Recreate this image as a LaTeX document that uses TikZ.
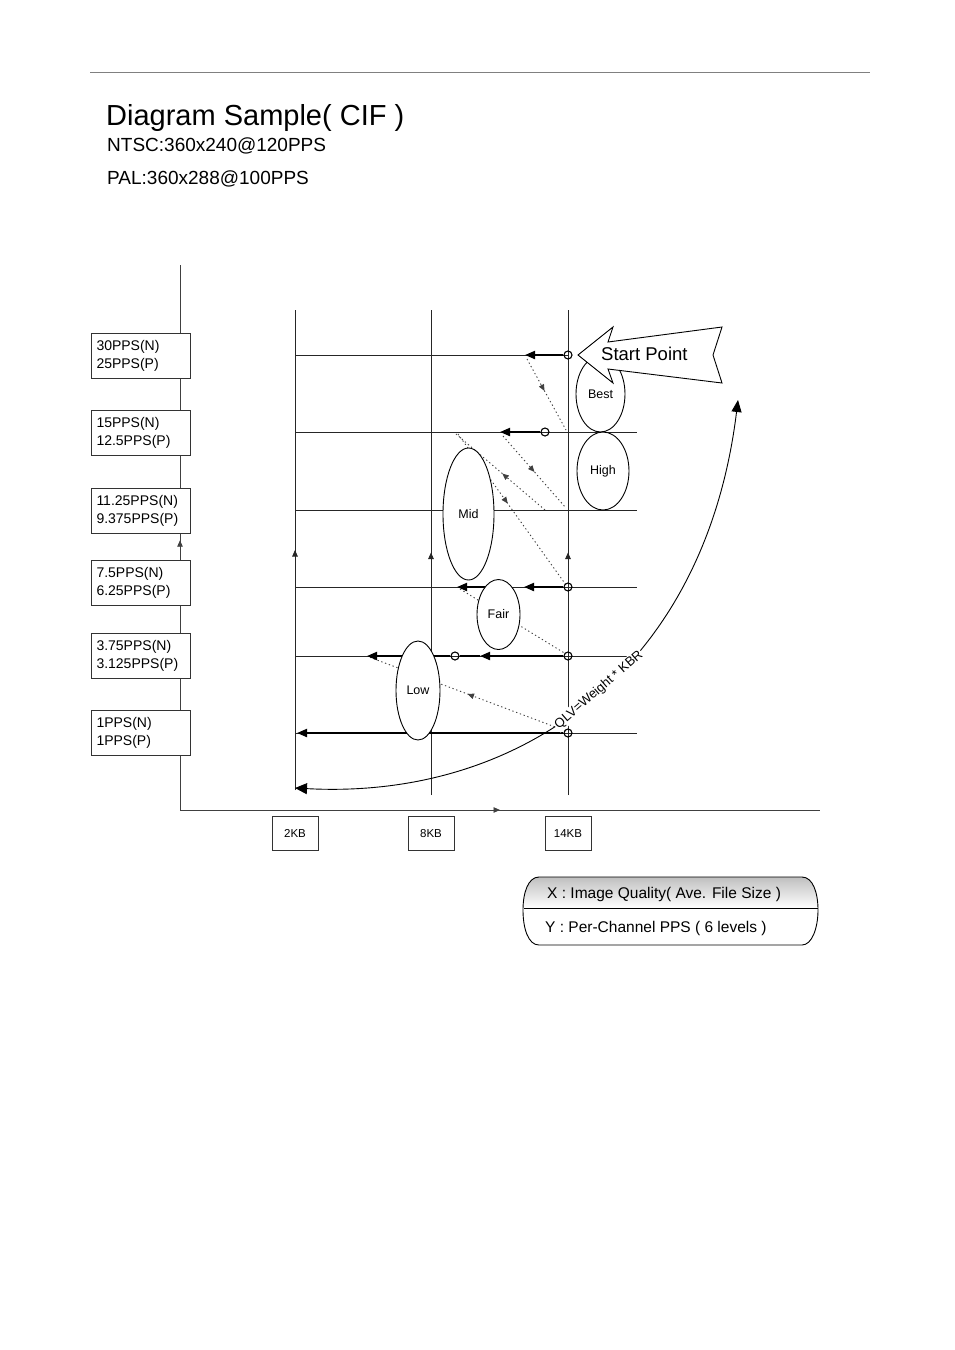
\documentclass[tikz,border=0pt]{standalone}
\usepackage{fontspec}
\setmainfont{Liberation Sans}
\usetikzlibrary{arrows.meta,shapes.geometric,decorations.markings}
\begin{document}
\begin{tikzpicture}[x=1pt,y=-1pt,
  axisline/.style={draw=black!75, line width=0.9pt},
  gridline/.style={draw=black!85, line width=0.9pt},
  midarrow/.style={postaction={decorate}, decoration={markings,
     mark=at position #1 with {\arrow{Triangle[length=6.5pt,width=5.5pt]}}}},
  thkarrow/.style={draw=black, line width=2pt, -{Triangle[length=10pt,width=8pt]}},
  thkline/.style={draw=black, line width=2pt},
  dotline/.style={draw=black!75, line width=0.9pt, dash pattern=on 1.3pt off 2.7pt},
  lvlbox/.style={draw=black!80, line width=0.9pt, fill=white, minimum width=99pt, minimum height=45pt,
     text width=88pt, align=left, inner sep=0pt, font=\fontsize{14}{18}\selectfont},
  kbbox/.style={draw=black!80, line width=0.9pt, fill=white, minimum width=46pt, minimum height=34pt,
     inner sep=0pt, font=\fontsize{11.5}{14}\selectfont},
  oval/.style={ellipse, draw=black, line width=0.9pt, fill=white, inner sep=0pt,
     font=\fontsize{12.5}{15}\selectfont},
  pt/.style={circle, draw=black, line width=1.1pt, inner sep=0pt, minimum size=8pt},
]
\useasboundingbox[fill=white] (0,0) rectangle (954,1350);

% top rule
\coordinate (r1) at (90,72); \coordinate (r2) at (870,72);
\draw[gray, line width=0.9pt] (r1) -- (r2);

% title
\node[anchor=base west, inner sep=0pt, font=\fontsize{29}{34}\selectfont] (title) at (106,125) {Diagram Sample( CIF )};
\node[anchor=base west, inner sep=0pt, font=\fontsize{19}{22}\selectfont] (ntsc) at (107,151.5) {NTSC:360x240@120PPS};
\node[anchor=base west, inner sep=0pt, font=\fontsize{19}{22}\selectfont] (pal) at (107,184) {PAL:360x288@100PPS};

% axes
\coordinate (yt) at (180,265); \coordinate (o) at (180,810); \coordinate (xe) at (820,810);
\draw[axisline, midarrow=0.495] (o) -- (yt);
\draw[axisline, midarrow=0.5] (o) -- (xe);

% grid coordinates
\coordinate (v2t) at (295,310); \coordinate (v2b) at (295,790);
\coordinate (v8t) at (431,310); \coordinate (v8b) at (431,795);
\coordinate (v14t) at (568,310); \coordinate (v14b) at (568,795);
\draw[gridline, midarrow=0.5] (v2b) -- (v2t);
\draw[gridline, midarrow=0.5] (v8b) -- (v8t);
\draw[gridline, midarrow=0.5] (v14b) -- (v14t);

\coordinate (h1a) at (295,355); \coordinate (h1b) at (568,355);
\coordinate (h2a) at (295,432); \coordinate (h2b) at (637,432);
\coordinate (h3a) at (295,510); \coordinate (h3b) at (637,510);
\coordinate (h4a) at (295,587); \coordinate (h4b) at (637,587);
\coordinate (h5a) at (295,656); \coordinate (h5b) at (628,656);
\coordinate (h6a) at (295,733); \coordinate (h6b) at (637,733);
\draw[gridline] (h1a) -- (h1b);
\draw[gridline] (h2a) -- (h2b);
\draw[gridline] (h3a) -- (h3b);
\draw[gridline] (h4a) -- (h4b);
\draw[gridline] (h5a) -- (h5b);
\draw[gridline] (h6a) -- (h6b);

% level boxes
\node[lvlbox] (l1) at (140.5,355.5) {30PPS(N)\\25PPS(P)};
\node[lvlbox] (l2) at (140.5,432.5) {15PPS(N)\\12.5PPS(P)};
\node[lvlbox] (l3) at (140.5,510.5) {11.25PPS(N)\\9.375PPS(P)};
\node[lvlbox] (l4) at (140.5,582.5) {7.5PPS(N)\\6.25PPS(P)};
\node[lvlbox] (l5) at (140.5,655.5) {3.75PPS(N)\\3.125PPS(P)};
\node[lvlbox] (l6) at (140.5,732.5) {1PPS(N)\\1PPS(P)};

% KB boxes
\node[kbbox] (k2) at (295,833.5) {2KB};
\node[kbbox] (k8) at (431,833.5) {8KB};
\node[kbbox] (k14) at (568,833.5) {14KB};

% dotted arrows
\coordinate (d1a) at (527,359); \coordinate (d1b) at (566,430);
\coordinate (d2a) at (503,436); \coordinate (d2b) at (566,508);
\coordinate (d3a) at (545,510); \coordinate (d3b) at (456,434);
\coordinate (d4a) at (458,434); \coordinate (d4b) at (566,585);
\coordinate (d5a) at (460,589); \coordinate (d5b) at (566,654);
\coordinate (d6a) at (566,731); \coordinate (d6b) at (369,657);
\draw[dotline, midarrow=0.45] (d1a) -- (d1b);
\draw[dotline, midarrow=0.5] (d2a) -- (d2b);
\draw[dotline, midarrow=0.48] (d3a) -- (d3b);
\draw[dotline, midarrow=0.46] (d4a) -- (d4b);
\draw[dotline] (d5a) -- (d5b);
\draw[dotline, midarrow=0.5] (d6a) -- (d6b);

% circles
\node[pt] (c1) at (568,355) {};
\node[pt] (c2) at (545,432) {};
\node[pt] (c4) at (568,587) {};
\node[pt] (c5) at (568,656) {};
\node[pt] (c5b) at (455,656) {};
\node[pt] (c6) at (568,733) {};

% thick arrows
\coordinate (a1) at (525,355);
\coordinate (a2) at (500,432);
\coordinate (a4) at (524,587); \coordinate (a4s) at (492,587); \coordinate (a4b) at (457,587);
\coordinate (a5) at (480,656); \coordinate (a5b) at (367,656);
\coordinate (a6) at (297,733);
\draw[thkarrow] (c1) -- (a1);
\draw[thkarrow] (c2) -- (a2);
\draw[thkarrow] (c4) -- (a4);
\draw[thkarrow] (a4s) -- (a4b);
\draw[thkarrow] (c5) -- (a5);
\draw[thkline] (a5) -- (c5b);
\draw[thkarrow] (c5b) -- (a5b);
\draw[thkarrow] (c6) -- (a6);

% ellipses
\node[oval, minimum width=49pt, minimum height=76pt] (best) at (600.5,394) {Best};
\node[oval, minimum width=52pt, minimum height=78pt] (high) at (603,471) {High};
\node[oval, minimum width=51pt, minimum height=132pt] (mid) at (468.5,514) {Mid};
\node[oval, minimum width=43pt, minimum height=70pt] (fair) at (498.5,614.5) {Fair};
\node[oval, minimum width=44pt, minimum height=99pt] (low) at (418,690.5) {Low};

% start point arrow
\coordinate (s0) at (578,355); \coordinate (s1) at (613,327); \coordinate (s2) at (608,342);
\coordinate (s3) at (722,327); \coordinate (s4) at (713,355); \coordinate (s5) at (722,383);
\coordinate (s6) at (608,369); \coordinate (s7) at (613,383);
\draw[fill=white, line width=0.9pt] (s0) -- (s1) -- (s2) -- (s3) -- (s4) -- (s5) -- (s6) -- (s7) -- cycle;
\node[anchor=base west, inner sep=0pt, font=\fontsize{18.5}{22}\selectfont] (start) at (601,360.5) {Start Point};

% QLV curve
\coordinate (q1) at (295,788); \coordinate (q2) at (738,400);
\draw[line width=0.9pt, {Triangle[length=12pt,width=11pt]}-{Triangle[length=12pt,width=10pt]}]
  (q1) .. controls (520,800) and (705,670) .. (q2);
\node[fill=white, inner sep=1pt, rotate=41, font=\fontsize{13}{15}\selectfont] (qlv) at (599,690) {QLV=Weight * KBR};

% legend
\begin{scope}
\clip (539,877) -- (802,877) .. controls (813,877) and (818,893) .. (818,910)
  .. controls (818,928) and (812,945) .. (802,945) -- (539,945)
  .. controls (528,945) and (523,928) .. (523,910) .. controls (523,893) and (528,877) .. (539,877) -- cycle;
\shade[top color=gray!50, bottom color=white] (520,877) rectangle (820,908);
\end{scope}
\draw[line width=0.9pt] (539,877) -- (802,877) .. controls (813,877) and (818,893) .. (818,910)
  .. controls (818,928) and (812,945) .. (802,945) -- (539,945)
  .. controls (528,945) and (523,928) .. (523,910) .. controls (523,893) and (528,877) .. (539,877) -- cycle;
\coordinate (lg1) at (523.5,908); \coordinate (lg2) at (817.5,908);
\draw[line width=0.9pt] (lg1) -- (lg2);
\node[anchor=base west, inner sep=0pt, font=\fontsize{15.5}{18}\selectfont] (lx) at (547,898) {X : Image Quality( Ave. File Size )};
\node[anchor=base west, inner sep=0pt, font=\fontsize{15.5}{18}\selectfont] (ly) at (545,932) {Y : Per-Channel PPS ( 6 levels )};
\end{tikzpicture}
\end{document}
